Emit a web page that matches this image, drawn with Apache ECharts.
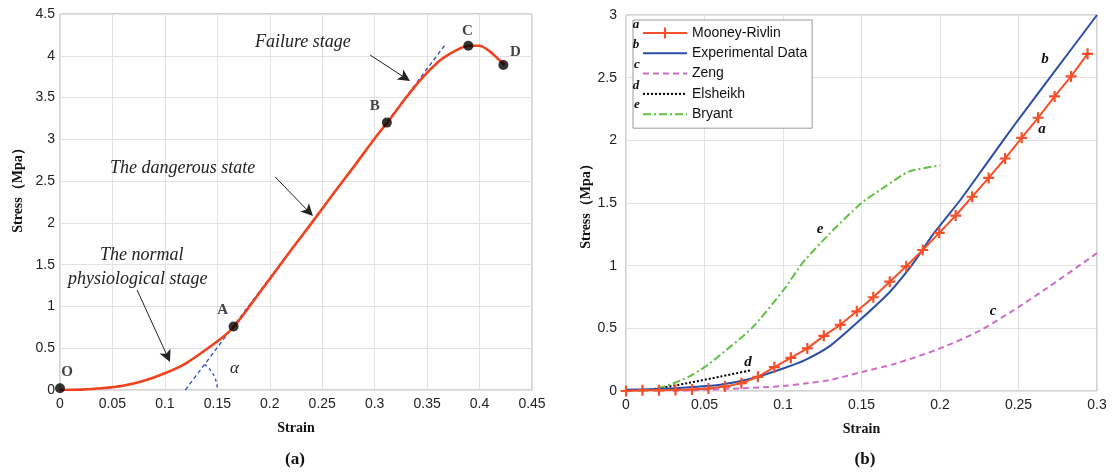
<!DOCTYPE html>
<html><head><meta charset="utf-8">
<script src="https://cdn.jsdelivr.net/npm/echarts@6/dist/echarts.min.js"></script>
<style>html,body{margin:0;padding:0;background:#fff}#c{width:1112px;height:473px}</style>
</head><body><div id="c"></div>
<script>
// ---------- Panel (a) ----------
const strainA = [0,0.02,0.04,0.06,0.08,0.1,0.12,0.14,0.155,0.166,0.18,0.2,0.22,0.24,0.26,0.28,0.3,0.312,0.33,0.345,0.36,0.37,0.38,0.39,0.4,0.41,0.417,0.424];
const stressA = [0,0.005,0.02,0.05,0.11,0.2,0.32,0.49,0.63,0.76,0.99,1.33,1.67,2.0,2.34,2.67,3.01,3.2,3.5,3.73,3.92,4.01,4.08,4.12,4.12,4.05,3.97,3.89];
const tangentX = [0.1195, 0.3665];
const tangentY = [0, 4.12];
const pointNames = ['O','A','B','C','D'];
const pointX = [0, 0.1655, 0.3116, 0.3893, 0.4227];
const pointY = [0.02, 0.76, 3.2, 4.12, 3.89];
const xTicksA = {min:0, max:0.45, interval:0.05};
const yTicksA = {min:0, max:4.5, interval:0.5};

// ---------- Panel (b) ----------
const seriesNames = ['Mooney-Rivlin','Experimental Data','Zeng','Elsheikh','Bryant'];
const seriesLetters = ['a','b','c','d','e'];
const mooneyX = [0,0.0105,0.021,0.0315,0.042,0.0525,0.063,0.0735,0.084,0.0945,0.105,0.1155,0.126,0.1365,0.147,0.1575,0.168,0.1785,0.189,0.1995,0.21,0.2205,0.231,0.2415,0.252,0.2625,0.273,0.2835,0.294];
const mooneyY = [0,0.005,0.005,0.008,0.012,0.02,0.035,0.062,0.113,0.19,0.265,0.34,0.44,0.528,0.636,0.748,0.872,0.995,1.125,1.262,1.40,1.55,1.70,1.855,2.02,2.18,2.35,2.51,2.69];
const expX = [0,0.02,0.04,0.06,0.08,0.1,0.114,0.13,0.149,0.168,0.183,0.196,0.2127,0.23,0.249,0.27,0.3];
const expY = [0.01,0.015,0.03,0.05,0.1,0.18,0.247,0.36,0.566,0.79,1.02,1.257,1.52,1.82,2.15,2.5,3.0];
const zengX = [0.03,0.05,0.075,0.1,0.115,0.13,0.151,0.172,0.2,0.225,0.245,0.268,0.3];
const zengY = [0,0.01,0.022,0.04,0.061,0.088,0.154,0.22,0.34,0.48,0.63,0.82,1.1];
const elsX = [0.01,0.02,0.04,0.06,0.08];
const elsY = [0.005,0.02,0.065,0.115,0.167];
const bryX = [0.02,0.03,0.04,0.05,0.06,0.08,0.1,0.113,0.13,0.15,0.165,0.18,0.2];
const bryY = [0.02,0.06,0.114,0.19,0.287,0.5,0.8,1.03,1.26,1.5,1.63,1.75,1.8];
const xTicksB = {min:0, max:0.3, interval:0.05};
const yTicksB = {min:0, max:3, interval:0.5};

const zip = (xs, ys) => xs.map((x, i) => [x, ys[i]]);

const SERIF = '"Liberation Serif","Times New Roman",serif';
const SANS = '"Liberation Sans",Arial,sans-serif';
const RED = '#f4502a', BLUE = '#2c4ea8', PINK = '#cf6cc6', GREEN = '#5ec23e';

const chart = echarts.init(document.getElementById('c'));

function xAxisCfg(grid, ticks, gap) {
  return Object.assign({
    type: 'value', gridIndex: grid, name: 'Strain', nameLocation: 'middle', nameGap: gap,
    nameTextStyle: {fontFamily: SERIF, fontWeight: 'bold', fontSize: 14, color: '#111', verticalAlign: 'middle'},
    axisLine: {show: false}, axisTick: {show: false},
    axisLabel: {fontFamily: SANS, fontSize: 14, color: '#222', margin: 7},
    splitLine: {show: true, lineStyle: {color: '#e2e2e2', width: 1}}
  }, ticks);
}
function yAxisCfg(grid, ticks, gap, margin, pad) {
  return Object.assign({
    type: 'value', gridIndex: grid, name: 'Stress（Mpa）', nameLocation: 'middle', nameGap: gap,
    nameTextStyle: {fontFamily: SERIF, fontWeight: 'bold', fontSize: 14, color: '#111', verticalAlign: 'middle', padding: pad},
    axisLine: {show: false}, axisTick: {show: false},
    axisLabel: {fontFamily: SANS, fontSize: 14, color: '#222', margin: margin},
    splitLine: {show: true, lineStyle: {color: '#e2e2e2', width: 1}}
  }, ticks);
}

const labelOffsets = [[7,-16],[-11,-16],[-12,-16],[-1,-15],[12,-13]];
const plusPath = 'path://M4,0h2v4h4v2h-4v4h-2v-4h-4v-2h4z';
const arrowPath = 'path://M5,0L10,16L5,12L0,16Z';
const noSymbol = {opacity: 0};

chart.setOption({
  animation: false,
  backgroundColor: '#fff',
  grid: [
    {left: 60, top: 14, width: 472, height: 376, show: true, borderColor: '#a8a8a8', borderWidth: 1},
    {left: 626, top: 15, width: 471, height: 376, show: true, borderColor: '#a8a8a8', borderWidth: 1}
  ],
  xAxis: [xAxisCfg(0, xTicksA, 38), xAxisCfg(1, xTicksB, 38)],
  yAxis: [yAxisCfg(0, yTicksA, 42, 5, [0,0,0,30]), yAxisCfg(1, yTicksB, 38, 9, 0)],
  legend: {
    data: seriesNames.map((n, i) => i === 0 ? {name: n} : {name: n, itemStyle: noSymbol}),
    orient: 'vertical', left: 633, top: 20,
    itemWidth: 44, itemHeight: 14, itemGap: 6.3, padding: [6,5,7,9],
    borderColor: '#9a9a9a', borderWidth: 1, backgroundColor: '#fff',
    selectedMode: false,
    textStyle: {fontFamily: SANS, fontSize: 14, color: '#111'}
  },
  series: [
    {type: 'line', xAxisIndex: 0, yAxisIndex: 0, data: zip(tangentX, tangentY), symbol: 'none',
     lineStyle: {color: '#2b4cc4', width: 1.3, type: [4,3]}, z: 2, silent: true},
    {type: 'line', xAxisIndex: 0, yAxisIndex: 0, data: zip(strainA, stressA), symbol: 'none', smooth: 0.3,
     lineStyle: {color: '#f2421e', width: 2.6}, z: 3, silent: true,
     markLine: {
       silent: true, symbol: ['none', arrowPath], symbolSize: 12, animation: false,
       label: {show: false}, lineStyle: {color: '#222', width: 1, type: 'solid'},
       itemStyle: {color: '#111'},
       data: [
         [{coord: [0.2957, 4.009]}, {coord: [0.3289, 3.737]}],
         [{coord: [0.2052, 2.549]}, {coord: [0.2372, 2.134]}],
         [{coord: [0.0735, 1.197]}, {coord: [0.1025, 0.40]}]
       ]
     }},
    {type: 'scatter', xAxisIndex: 0, yAxisIndex: 0, symbolSize: 10, z: 5, silent: true,
     itemStyle: {color: '#000'},
     data: pointNames.map((n, i) => ({name: n, value: [pointX[i], pointY[i]],
       label: {show: true, position: 'inside', offset: labelOffsets[i], formatter: n,
         fontFamily: SERIF, fontWeight: 'bold', fontSize: 15, color: '#111'}}))},
    {name: seriesNames[0], type: 'line', xAxisIndex: 1, yAxisIndex: 1, data: zip(mooneyX, mooneyY),
     symbol: plusPath, symbolSize: 11, showSymbol: true, z: 6,
     itemStyle: {color: RED}, lineStyle: {color: RED, width: 2}},
    {name: seriesNames[1], type: 'line', xAxisIndex: 1, yAxisIndex: 1, data: zip(expX, expY),
     symbol: 'none', smooth: 0.2, z: 5, itemStyle: {color: BLUE}, lineStyle: {color: BLUE, width: 2}},
    {name: seriesNames[2], type: 'line', xAxisIndex: 1, yAxisIndex: 1, data: zip(zengX, zengY),
     symbol: 'none', smooth: 0.3, z: 4, itemStyle: {color: PINK}, lineStyle: {color: PINK, width: 2, type: [6,4]}},
    {name: seriesNames[3], type: 'line', xAxisIndex: 1, yAxisIndex: 1, data: zip(elsX, elsY),
     symbol: 'none', smooth: 0.3, z: 4, itemStyle: {color: '#000'}, lineStyle: {color: '#000', width: 2, type: [2,2]}},
    {name: seriesNames[4], type: 'line', xAxisIndex: 1, yAxisIndex: 1, data: zip(bryX, bryY),
     symbol: 'none', smooth: 0.2, z: 4, itemStyle: {color: GREEN}, lineStyle: {color: GREEN, width: 2, type: [8,3,2,3]}}
  ]
});

// ---------- annotations ----------
const italic = (text, x, y, size, align) => ({type: 'text', x: x, y: y, z: 50, silent: true,
  style: {text: text, fontFamily: SERIF, fontStyle: 'italic', fontSize: size, fill: '#222',
    textAlign: align || 'left', textVerticalAlign: 'middle'}});
const letter = (text, x, y, size) => ({type: 'text', x: x, y: y, z: 60, silent: true,
  style: {text: text, fontFamily: SERIF, fontStyle: 'italic', fontWeight: 'bold', fontSize: size, fill: '#111',
    textAlign: 'center', textVerticalAlign: 'middle'}});

const arcC = chart.convertToPixel({xAxisIndex: 0, yAxisIndex: 0}, [tangentX[0], tangentY[0]]);
const p2 = chart.convertToPixel({xAxisIndex: 0, yAxisIndex: 0}, [tangentX[1], tangentY[1]]);
const lineAng = Math.atan2(p2[1] - arcC[1], p2[0] - arcC[0]);

const graphics = [
  italic('Failure stage', 255, 42, 18),
  italic('The dangerous state', 110, 168, 18),
  italic('The normal', 100, 255, 18),
  italic('physiological stage', 68, 279, 18),
  italic('α', 230, 369, 17),
  {type: 'arc', z: 40, silent: true,
   shape: {cx: arcC[0], cy: arcC[1], r: 32, startAngle: lineAng, endAngle: -0.08, clockwise: true},
   style: {stroke: '#2b4cc4', fill: null, lineWidth: 1.3, lineDash: [3,3]}},
  {type: 'text', x: 295, y: 460, z: 50, style: {text: '(a)', fontFamily: SERIF, fontWeight: 'bold', fontSize: 17, fill: '#111', textAlign: 'center', textVerticalAlign: 'middle'}},
  {type: 'text', x: 865, y: 460, z: 50, style: {text: '(b)', fontFamily: SERIF, fontWeight: 'bold', fontSize: 17, fill: '#111', textAlign: 'center', textVerticalAlign: 'middle'}},
  letter('b', 1045, 59, 15),
  letter('a', 1042, 129, 15),
  letter('c', 993, 311, 15),
  letter('d', 748, 362, 15),
  letter('e', 820, 229, 15)
];
const legendLetterPos = [[636,25],[636,45],[637,65],[636,86],[637,105]];
seriesLetters.forEach((l, i) => graphics.push(letter(l, legendLetterPos[i][0], legendLetterPos[i][1], 13)));
chart.setOption({graphic: graphics});
</script>
</body></html>
